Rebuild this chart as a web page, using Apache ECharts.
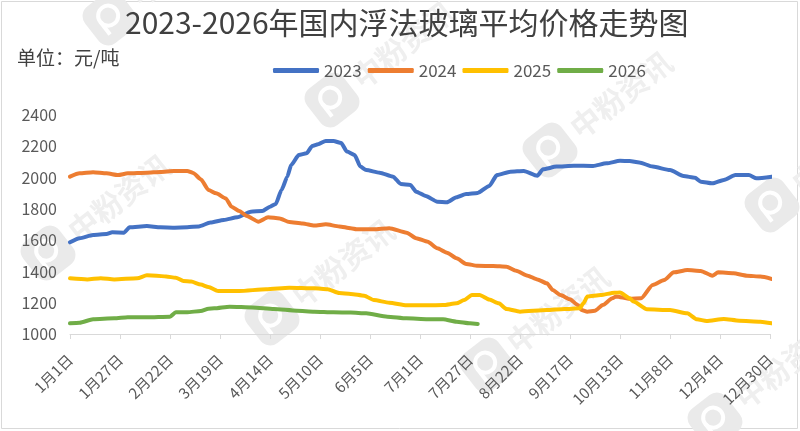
<!DOCTYPE html>
<html>
<head>
<meta charset="utf-8">
<script src="https://cdn.jsdelivr.net/npm/echarts@6/dist/echarts.min.js"></script>
<style>html,body{margin:0;padding:0;background:#fff;}#c{width:800px;height:431px;}</style>
</head>
<body>
<div id="c"></div>
<script>
// Tick labels on the x axis (one every 26 days)
var tickLabels = ['1月1日','1月27日','2月22日','3月19日','4月14日','5月10日','6月5日','7月1日','7月27日','8月22日','9月17日','10月13日','11月8日','12月4日','12月30日'];
var seriesNames = ['2023','2024','2025','2026'];
// [day of year (0 = 1月1日), price 元/吨]
var s2023 = [[0,1586],[5,1612],[12,1633],[19,1639],[22,1650],[28,1648],[31,1682],[40,1690],[47,1682],[54,1680],[61,1682],[67,1688],[73,1712],[80,1729],[87,1746],[94,1782],[100,1786],[104,1814],[107,1831],[110,1921],[113,2006],[115,2080],[119,2144],[123,2155],[126,2202],[129,2213],[133,2234],[137,2234],[141,2221],[144,2166],[148,2144],[151,2070],[154,2048],[161,2031],[168,2006],[172,1959],[177,1953],[180,1910],[185,1882],[191,1846],[196,1842],[201,1874],[206,1895],[212,1902],[218,1946],[222,2016],[229,2038],[236,2042],[243,2012],[246,2053],[253,2070],[262,2076],[272,2074],[279,2091],[286,2107],[291,2106],[296,2097],[303,2070],[312,2048],[319,2010],[325,1999],[328,1974],[334,1963],[340,1985],[346,2016],[353,2016],[357,1995],[365,2006]];
var s2024 = [[0,2006],[5,2027],[12,2034],[19,2027],[25,2016],[30,2027],[40,2031],[47,2036],[54,2042],[61,2042],[64,2030],[68,1990],[72,1921],[76,1899],[81,1867],[84,1814],[88,1786],[92,1754],[98,1718],[103,1746],[109,1739],[114,1716],[121,1707],[127,1693],[133,1701],[140,1688],[146,1676],[149,1669],[158,1669],[166,1676],[175,1648],[180,1612],[186,1590],[191,1548],[196,1520],[201,1484],[206,1448],[212,1436],[220,1435],[227,1430],[232,1405],[238,1373],[243,1349],[248,1324],[251,1281],[255,1249],[260,1222],[264,1185],[266,1153],[269,1143],[273,1149],[277,1185],[282,1228],[284,1240],[291,1225],[297,1228],[303,1313],[309,1345],[314,1394],[321,1409],[328,1403],[334,1373],[337,1394],[345,1388],[352,1373],[359,1367],[365,1352]];
var s2025 = [[0,1356],[9,1349],[16,1356],[23,1349],[35,1356],[40,1375],[45,1373],[50,1367],[55,1360],[59,1339],[63,1335],[68,1316],[72,1300],[77,1275],[88,1275],[102,1286],[114,1296],[127,1292],[134,1286],[140,1262],[146,1256],[153,1245],[158,1217],[166,1200],[175,1183],[186,1183],[194,1185],[201,1196],[205,1217],[209,1249],[213,1249],[218,1220],[223,1196],[227,1160],[234,1143],[248,1153],[257,1160],[265,1164],[267,1196],[269,1239],[276,1249],[283,1264],[286,1265],[291,1228],[293,1207],[300,1158],[312,1153],[321,1132],[326,1094],[331,1083],[340,1096],[348,1085],[359,1079],[365,1068]];
var s2026 = [[0,1068],[5,1072],[12,1094],[23,1100],[30,1107],[40,1107],[52,1111],[55,1139],[61,1139],[68,1147],[72,1162],[75,1164],[83,1175],[95,1170],[106,1160],[118,1149],[127,1143],[137,1139],[146,1137],[154,1132],[165,1111],[175,1100],[186,1094],[194,1094],[201,1079],[208,1068],[212,1064]];
var seriesData = [s2023, s2024, s2025, s2026];
var colors = ['#4472C4','#ED7D31','#FFC000','#70AD47'];
var FONT = '"Noto Sans CJK SC","Noto Sans",sans-serif';
var watermarkText = '中粉资讯';
// watermark logo centres (decoration)
var wmSpots = [[110,18],[332,100],[550,150],[772,205],[48,253],[272,318],[487,365],[715,420]];

function watermark(p) {
  return {
    type: 'group', x: p[0], y: p[1], rotation: 0.66, silent: true, z: 0,
    children: [
      {type:'rect', shape:{x:-23,y:-23,width:46,height:46,r:12}, style:{fill:'#eaeaea'}},
      {type:'circle', shape:{cx:0,cy:-3,r:10}, style:{fill:'none', stroke:'#fff', lineWidth:4}},
      {type:'rect', shape:{x:-12,y:-3,width:4,height:16}, style:{fill:'#fff'}},
      {type:'text', x: 30, y: 0, style:{text: watermarkText, fontFamily: FONT, fontSize: 30, fontWeight:'bold', fill: '#efefef', verticalAlign:'middle', align:'left'}}
    ]
  };
}

var chart = echarts.init(document.getElementById('c'), null, {renderer:'canvas'});
var graphics = [
  {type:'rect', shape:{x:1.5,y:1.5,width:796,height:427}, style:{fill:'none', stroke:'#d9d9d9', lineWidth:1}, silent:true}
].concat(wmSpots.map(watermark)).concat([
  {type:'text', left: 17, top: 48, style:{text:'单位：元/吨', fontFamily: FONT, fontSize: 19, fill:'#404040'}}
]);
var option = {
  backgroundColor: '#fff',
  animation: false,
  color: colors,
  title: {
    text: '2023-2026年国内浮法玻璃平均价格走势图',
    left: 120, top: 3,
    textStyle: {fontFamily: FONT, fontSize: 30, fontWeight: 'normal', color: '#404040'}
  },
  legend: {
    data: seriesNames,
    left: 268, top: 57,
    itemWidth: 46, itemHeight: 5, itemGap: 6,
    icon: 'roundRect',
    textStyle: {fontFamily: FONT, fontSize: 17, color: '#595959'}
  },
  graphic: graphics,
  grid: {left: 70, right: 30, top: 115, bottom: 97},
  xAxis: {
    type: 'value', min: 0, max: 364, interval: 26,
    splitLine: {show: false},
    axisLine: {show: true, lineStyle: {color: '#d9d9d9', width: 1}},
    axisTick: {show: true, length: 5, lineStyle: {color: '#d9d9d9'}},
    axisLabel: {
      rotate: 45, margin: 23, fontFamily: FONT, fontSize: 15, color: '#595959',
      formatter: function (v) { var i = Math.round(v / 26); return (Math.abs(v - i * 26) < 0.01 && tickLabels[i]) ? tickLabels[i] : ''; }
    }
  },
  yAxis: {
    type: 'value', min: 1000, max: 2400, interval: 200,
    splitLine: {show: false},
    axisLine: {show: false}, axisTick: {show: false},
    axisLabel: {margin: 13, fontFamily: FONT, fontSize: 16, color: '#595959', formatter: function (v) { return String(v); }}
  },
  series: seriesNames.map(function (n, i) {
    return {
      name: n, type: 'line', data: seriesData[i], showSymbol: false, symbol: 'none',
      smooth: 0.2, smoothMonotone: 'x', clip: false, z: 3,
      lineStyle: {width: 4, color: colors[i], cap: 'round', join: 'round'}
    };
  })
};
chart.setOption(option);
</script>
</body>
</html>
